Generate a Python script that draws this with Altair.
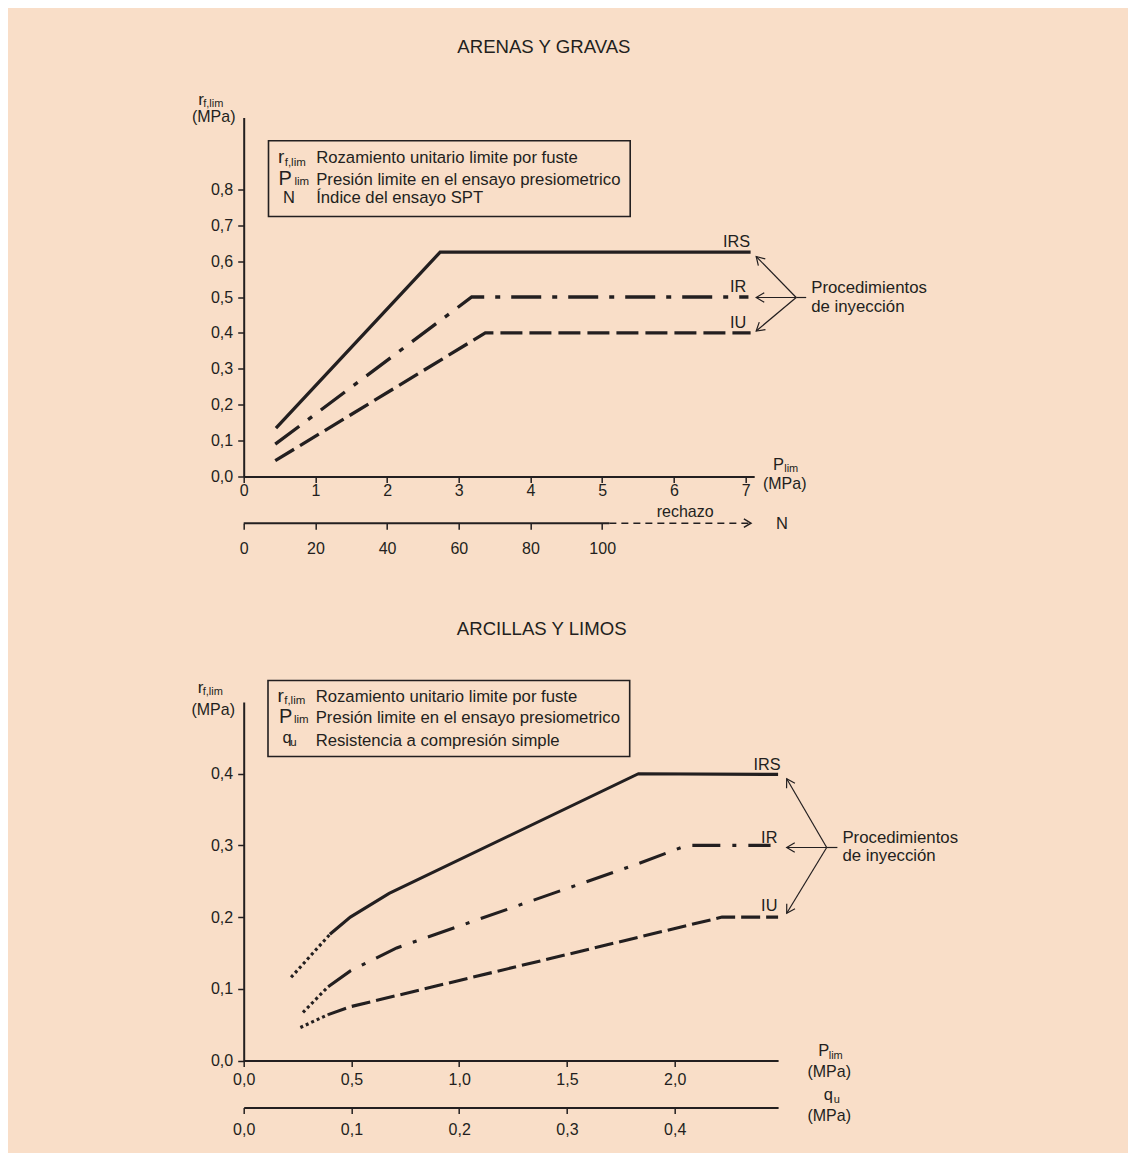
import math
import altair as alt
import pandas as pd

BG = "#F9DEC8"
INK = "#231F20"
FONT = "Liberation Sans"

# ================= ARENAS Y GRAVAS =================
sand_title = "ARENAS Y GRAVAS"
sand_irs_p = [0.45, 2.74, 7.07]
sand_irs_r = [0.1345, 0.625, 0.625]
sand_ir_p = [0.44, 3.18, 7.04]
sand_ir_r = [0.090, 0.500, 0.500]
sand_iu_p = [0.44, 3.37, 7.07]
sand_iu_r = [0.044, 0.400, 0.400]
sand_p_ticks = [0, 1, 2, 3, 4, 5, 6, 7]
sand_r_ticks = [0.0, 0.1, 0.2, 0.3, 0.4, 0.5, 0.6, 0.7, 0.8]
sand_n_ticks = [0, 20, 40, 60, 80, 100]
sand_n_solid = [0, 102]
sand_n_dashed = [102, 141.5]
sand_legend_sym = ["N"]
sand_legend_desc = ["Rozamiento unitario limite por fuste",
                    "Presión limite en el ensayo presiometrico",
                    "Índice del ensayo SPT"]
sand_p_max = 7.12
sand_r_max = 1.0
N_PER_MPA = 20

# ================= ARCILLAS Y LIMOS =================
clay_title = "ARCILLAS Y LIMOS"
clay_irs_dot_p = [0.22, 0.40]
clay_irs_dot_r = [0.116, 0.176]
clay_irs_p = [0.40, 0.495, 0.675, 1.832, 2.48]
clay_irs_r = [0.176, 0.200, 0.233, 0.400, 0.399]
clay_ir_dot_p = [0.275, 0.392]
clay_ir_dot_r = [0.067, 0.103]
clay_ir_p = [0.392, 0.495, 0.71, 1.835, 2.03, 2.08, 2.445]
clay_ir_r = [0.103, 0.125, 0.157, 0.275, 0.297, 0.300, 0.300]
clay_iu_dot_p = [0.263, 0.392]
clay_iu_dot_r = [0.046, 0.064]
clay_iu_p = [0.392, 0.495, 2.22, 2.48]
clay_iu_r = [0.064, 0.075, 0.200, 0.200]
clay_p_ticks = [0.0, 0.5, 1.0, 1.5, 2.0]
clay_r_ticks = [0.0, 0.1, 0.2, 0.3, 0.4]
clay_qu_ticks = [0.0, 0.1, 0.2, 0.3, 0.4]
clay_legend_desc = ["Rozamiento unitario limite por fuste",
                    "Presión limite en el ensayo presiometrico",
                    "Resistencia a compresión simple"]
clay_p_max = 2.48
clay_r_max = 0.5
MPA_PER_QU = 5

series_names = ["IRS", "IR", "IU"]
proc_text = ["Procedimientos", "de inyección"]

# ================= layout =================
SAND_W, SAND_H = 510.5, 359.0
CLAY_W, CLAY_H = 534.4, 358.5
SAND_O = (242.5, 475.0)
CLAY_O = (243.0, 1059.0)
N_OFFSET = 46.7
QU_OFFSET = 47.0
DESC_FS = 16.7
TICK_FS = 16
SER_FS = 16.3

COMMA = "replace(format(datum.value, '.1f'), '.', ',')"
CHEVRON = "M -1 -0.6 L 0 0 L -1 0.6"
AX = dict(title=None, tickSize=6, labelFlush=False, labelOverlap=False,
          labelFontSize=TICK_FS, labelFont=FONT, labelColor=INK,
          domainColor=INK, domainWidth=2, tickColor=INK, tickWidth=1.5, grid=False)


def conv(origin, w, h, pmax, rmax):
    def f(px, py):
        return ((px - origin[0]) * pmax / w, (origin[1] - py) * rmax / h)
    return f


def line_layer(p, r, xs, ys, dash=None, width=3.0, axes=None):
    kw = dict(color=INK, strokeWidth=width, strokeCap="butt", strokeJoin="miter")
    if dash:
        kw["strokeDash"] = dash
    xa, ya = (axes if axes else (None, None))
    return alt.Chart(pd.DataFrame({"p": p, "r": r})).mark_line(**kw).encode(
        x=alt.X("p:Q", scale=xs, axis=xa),
        y=alt.Y("r:Q", scale=ys, axis=ya),
    )


def text_layers(rows, at, xs, ys):
    # rows: (px, py, text, size, align)
    out = []
    for al in ["left", "center", "right"]:
        sub = [r for r in rows if r[4] == al]
        if not sub:
            continue
        recs = []
        for px, py, t, s, _ in sub:
            p, r = at(px, py)
            recs.append({"p": p, "r": r, "t": t, "fs": s})
        out.append(
            alt.Chart(pd.DataFrame(recs)).mark_text(
                font=FONT, align=al, baseline="alphabetic", color=INK
            ).encode(
                x=alt.X("p:Q", scale=xs, axis=None),
                y=alt.Y("r:Q", scale=ys, axis=None),
                text="t:N",
                size=alt.Size("fs:Q", scale=None, legend=None),
            )
        )
    return out


def box_layer(x0, y0, x1, y1, at, xs, ys):
    p0, r0 = at(x0, y1)
    p1, r1 = at(x1, y0)
    df = pd.DataFrame({"p": [p0], "p2": [p1], "r": [r0], "r2": [r1]})
    return alt.Chart(df).mark_rect(fillOpacity=0, stroke=INK, strokeWidth=1.6).encode(
        x=alt.X("p:Q", scale=xs, axis=None), x2="p2:Q",
        y=alt.Y("r:Q", scale=ys, axis=None), y2="r2:Q",
    )


def arrow_layers(hub, tips, stub, at, xs, ys):
    recs, heads = [], []
    hp, hr = at(*hub)
    for tx, ty in tips:
        tp, tr = at(tx, ty)
        recs.append({"p": hp, "r": hr, "p2": tp, "r2": tr})
        ang = math.degrees(math.atan2(ty - hub[1], tx - hub[0])) % 360
        heads.append({"p": tp, "r": tr, "ang": ang})
    sp, sr = at(*stub)
    recs.append({"p": hp, "r": hr, "p2": sp, "r2": sr})
    rules = alt.Chart(pd.DataFrame(recs)).mark_rule(color=INK, strokeWidth=1.2).encode(
        x=alt.X("p:Q", scale=xs, axis=None), x2="p2:Q",
        y=alt.Y("r:Q", scale=ys, axis=None), y2="r2:Q",
    )
    pts = alt.Chart(pd.DataFrame(heads)).mark_point(
        shape=CHEVRON, filled=False, stroke=INK, strokeWidth=1.2, size=260, opacity=1
    ).encode(
        x=alt.X("p:Q", scale=xs, axis=None),
        y=alt.Y("r:Q", scale=ys, axis=None),
        angle=alt.Angle("ang:Q", scale=None),
    )
    return [rules, pts]


# ================= sand panel =================
sxs = alt.Scale(domain=[0, sand_p_max], nice=False, zero=False)
sys_ = alt.Scale(domain=[0, sand_r_max], nice=False, zero=False)
sat = conv(SAND_O, SAND_W, SAND_H, sand_p_max, sand_r_max)

sand_xaxis = alt.Axis(values=sand_p_ticks, format="d", orient="bottom", labelPadding=0, **AX)
sand_yaxis = alt.Axis(values=sand_r_ticks, labelExpr=COMMA, orient="left", labelPadding=5, **AX)

sand_layers = [
    line_layer(sand_irs_p, sand_irs_r, sxs, sys_, axes=(sand_xaxis, sand_yaxis), width=3.3),
    line_layer(sand_ir_p, sand_ir_r, sxs, sys_, dash=[30, 11, 5, 11], width=3.3),
    line_layer(sand_iu_p, sand_iu_r, sxs, sys_, dash=[22, 7], width=3.3),
    box_layer(267.3, 139.3, 629, 215, sat, sxs, sys_),
]
sand_text = [
    (542.7, 51.7, sand_title, 18.6, "center"),
    (197, 103.3, "r", 17, "left"),
    (202, 105.5, "f,lim", 11, "left"),
    (212.5, 120.5, "(MPa)", 16, "center"),
    (276.7, 161.7, "r", 19, "left"),
    (283.5, 164.0, "f,lim", 11.5, "left"),
    (277.3, 183.3, "P", 20, "left"),
    (293.3, 183.0, "lim", 11.5, "left"),
    (281.7, 201.7, sand_legend_sym[0], 16.5, "left"),
    (315, 161.7, sand_legend_desc[0], DESC_FS, "left"),
    (315, 183.0, sand_legend_desc[1], DESC_FS, "left"),
    (315, 201.7, sand_legend_desc[2], DESC_FS, "left"),
    (749, 245.0, series_names[0], SER_FS, "right"),
    (745, 290.7, series_names[1], SER_FS, "right"),
    (745, 326.7, series_names[2], SER_FS, "right"),
    (810, 291.7, proc_text[0], 16.8, "left"),
    (810, 310.0, proc_text[1], 16.8, "left"),
    (771.7, 468.3, "P", 16.5, "left"),
    (783, 470.5, "lim", 11, "left"),
    (783.5, 487.5, "(MPa)", 16, "center"),
    (684, 515.0, "rechazo", 16, "center"),
    (774.8, 527.0, "N", 16.5, "left"),
]
sand_layers += text_layers(sand_text, sat, sxs, sys_)
sand_layers += arrow_layers((795, 296), [(755, 255), (755, 296), (755, 329.5)], (805, 296),
                            sat, sxs, sys_)

# secondary N axis (SPT blow count), 20 blows per MPa of P_lim
nxs = alt.Scale(domain=[0, sand_p_max * N_PER_MPA], nice=False, zero=False)
n_r = -N_OFFSET * sand_r_max / SAND_H
n_axis = alt.Axis(values=sand_n_ticks, format="d", orient="bottom", offset=N_OFFSET,
                  domain=False, labelPadding=11, **AX)
n_solid = alt.Chart(pd.DataFrame({"n": [sand_n_solid[0]], "n2": [sand_n_solid[1]], "r": [n_r]})
                    ).mark_rule(color=INK, strokeWidth=2).encode(
    x=alt.X("n:Q", scale=nxs, axis=n_axis), x2="n2:Q",
    y=alt.Y("r:Q", scale=sys_, axis=None))
n_dash = alt.Chart(pd.DataFrame({"n": [sand_n_dashed[0]], "n2": [sand_n_dashed[1]], "r": [n_r]})
                   ).mark_rule(color=INK, strokeWidth=1.5, strokeDash=[7, 5]).encode(
    x=alt.X("n:Q", scale=nxs, axis=None), x2="n2:Q",
    y=alt.Y("r:Q", scale=sys_, axis=None))
n_head = alt.Chart(pd.DataFrame({"n": [sand_n_dashed[1]], "r": [n_r], "ang": [0]})).mark_point(
    shape=CHEVRON, filled=False, stroke=INK, strokeWidth=1.5, size=200, opacity=1).encode(
    x=alt.X("n:Q", scale=nxs, axis=None),
    y=alt.Y("r:Q", scale=sys_, axis=None),
    angle=alt.Angle("ang:Q", scale=None))

sand = alt.layer(*sand_layers, n_solid, n_dash, n_head).resolve_scale(
    x="independent", y="independent").properties(width=SAND_W, height=SAND_H)

# ================= clay panel =================
cxs = alt.Scale(domain=[0, clay_p_max], nice=False, zero=False)
cys = alt.Scale(domain=[0, clay_r_max], nice=False, zero=False)
cat = conv(CLAY_O, CLAY_W, CLAY_H, clay_p_max, clay_r_max)

clay_xaxis = alt.Axis(values=clay_p_ticks, labelExpr=COMMA, orient="bottom", labelPadding=5, **AX)
clay_yaxis = alt.Axis(values=clay_r_ticks, labelExpr=COMMA, orient="left", labelPadding=5, **AX)
DOT = [3, 3]
clay_layers = [
    line_layer(clay_irs_p, clay_irs_r, cxs, cys, axes=(clay_xaxis, clay_yaxis), width=3.1),
    line_layer(clay_irs_dot_p, clay_irs_dot_r, cxs, cys, dash=DOT, width=3.1),
    line_layer(clay_ir_p, clay_ir_r, cxs, cys, dash=[28, 12, 4, 12], width=3.1),
    line_layer(clay_ir_dot_p, clay_ir_dot_r, cxs, cys, dash=DOT, width=3.1),
    line_layer(clay_iu_p, clay_iu_r, cxs, cys, dash=[19, 6], width=3.1),
    line_layer(clay_iu_dot_p, clay_iu_dot_r, cxs, cys, dash=DOT, width=3.1),
    box_layer(267.3, 679, 629, 755, cat, cxs, cys),
]
clay_text = [
    (541, 634.0, clay_title, 18.6, "center"),
    (197, 691.7, "r", 17, "left"),
    (202, 693.5, "f,lim", 11, "left"),
    (212.5, 713.3, "(MPa)", 16, "center"),
    (276.7, 700.7, "r", 19, "left"),
    (283.5, 703.0, "f,lim", 11.5, "left"),
    (278.3, 721.7, "P", 20, "left"),
    (293.3, 721.5, "lim", 11.5, "left"),
    (281.7, 741.7, "q", 16.5, "left"),
    (289.5, 744.5, "u", 11.5, "left"),
    (315, 700.7, clay_legend_desc[0], DESC_FS, "left"),
    (315, 721.7, clay_legend_desc[1], DESC_FS, "left"),
    (315, 745.0, clay_legend_desc[2], DESC_FS, "left"),
    (780, 769.0, series_names[0], SER_FS, "right"),
    (776.7, 841.7, series_names[1], SER_FS, "right"),
    (776.7, 910.0, series_names[2], SER_FS, "right"),
    (841.7, 841.7, proc_text[0], 16.8, "left"),
    (841.7, 860.0, proc_text[1], 16.8, "left"),
    (817.5, 1055.0, "P", 16.5, "left"),
    (828, 1057.5, "lim", 11, "left"),
    (828.5, 1075.5, "(MPa)", 16, "center"),
    (823, 1099.0, "q", 16.5, "left"),
    (833, 1102.0, "u", 11, "left"),
    (828.5, 1119.5, "(MPa)", 16, "center"),
]
clay_layers += text_layers(clay_text, cat, cxs, cys)
clay_layers += arrow_layers((826, 846), [(786, 777.3), (786, 846), (786, 911.7)], (836.7, 846),
                            cat, cxs, cys)

qxs = alt.Scale(domain=[0, clay_p_max / MPA_PER_QU], nice=False, zero=False)
qu_axis = alt.Axis(values=clay_qu_ticks, labelExpr=COMMA, orient="bottom", offset=QU_OFFSET,
                   labelPadding=8, **AX)
qu_layer = alt.Chart(pd.DataFrame({"q": clay_qu_ticks})).mark_point(opacity=0).encode(
    x=alt.X("q:Q", scale=qxs, axis=qu_axis),
    y=alt.value(0))

clay = alt.layer(*clay_layers, qu_layer).resolve_scale(
    x="independent", y="independent").properties(width=CLAY_W, height=CLAY_H)

chart = alt.vconcat(sand, clay, spacing=CLAY_O[1] - CLAY_H - SAND_O[1], bounds="flush").properties(
    padding={"left": 182.7, "top": 29.5, "right": 169, "bottom": 15},
    background=BG,
).configure_view(strokeWidth=0)

chart.save("out.html", embed_options={"renderer": "svg", "actions": False})
